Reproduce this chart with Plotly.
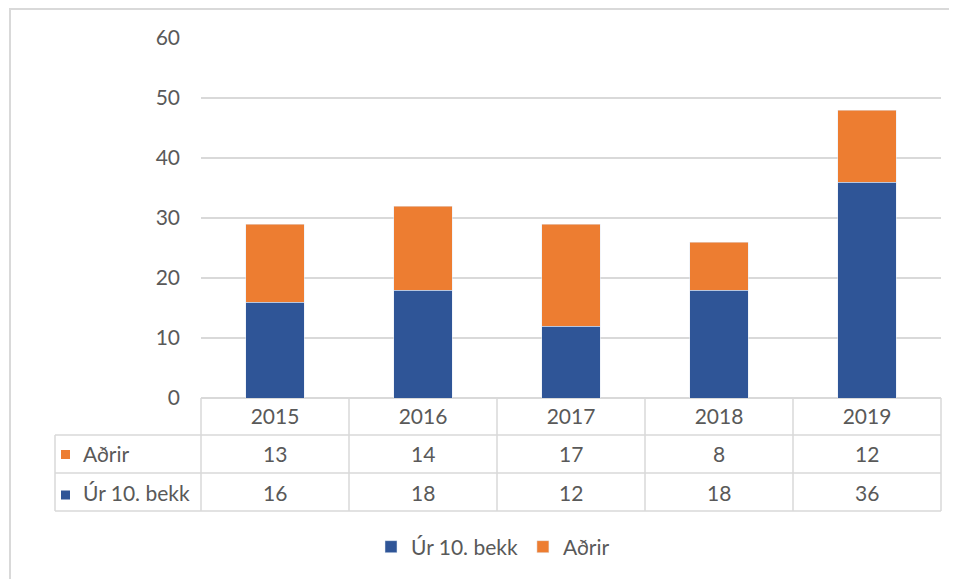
import plotly.graph_objects as go

years = ["2015", "2016", "2017", "2018", "2019"]
ur10 = [16, 18, 12, 18, 36]
adrir = [13, 14, 17, 8, 12]
name_ur = "Úr 10. bekk"
name_adrir = "Aðrir"
y_ticks = [0, 10, 20, 30, 40, 50, 60]

BLUE = "#2F5597"
ORANGE = "#ED7D31"
GRID = "#D9D9D9"
TXT = "#595959"
FONT = "Lato"
FS = 21

OFF = 8  # default body margin of the html page
W, H = 957 - OFF, 579 - OFF
# plot area in page pixels: x 201..941, y 38..398
L, T = 201 - OFF, 38 - OFF
R = W - (941 - OFF)
B = H - (398 - OFF)
PW, PH = W - L - R, H - T - B


def px(x):
    return (x - OFF - L) / PW


def py(y):
    return (H - B - (y - OFF)) / PH


n = len(years)
fig = go.Figure()
fig.add_trace(go.Bar(x=years, y=ur10, name=name_ur, marker_color=BLUE))
fig.add_trace(go.Bar(x=years, y=adrir, name=name_adrir, marker_color=ORANGE))

shapes = []
line = dict(color=GRID, width=1.5)
for yy in [435, 473, 511]:
    shapes.append(dict(type="line", xref="paper", yref="paper", x0=px(55), x1=1, y0=py(yy), y1=py(yy), line=line))
for i in range(n + 1):
    xx = i / n
    shapes.append(dict(type="line", xref="paper", yref="paper", x0=xx, x1=xx, y0=0, y1=py(511), line=line))
shapes.append(dict(type="line", xref="paper", yref="paper", x0=px(55), x1=px(55), y0=py(435), y1=py(511), line=line))
# outer chart border (top & left)
shapes.append(dict(type="line", xref="paper", yref="paper", x0=px(9), x1=px(W + 20), y0=py(9), y1=py(9),
                   line=dict(color=GRID, width=2)))
shapes.append(dict(type="line", xref="paper", yref="paper", x0=px(10), x1=px(10), y0=py(9), y1=py(H + 20),
                   line=dict(color=GRID, width=2)))

annotations = []
rows = [(name_adrir, adrir, ORANGE, 454, 454.5), (name_ur, ur10, BLUE, 492, 495)]
for label, vals, col, yc, ysq in rows:
    shapes.append(dict(type="rect", xref="paper", yref="paper", x0=px(61), x1=px(70), y0=py(ysq - 4.5),
                       y1=py(ysq + 4.5), fillcolor=col, line=dict(width=0)))
    annotations.append(dict(xref="paper", yref="paper", x=px(81), y=py(yc), text=label, showarrow=False,
                            xanchor="left", yanchor="middle", font=dict(family=FONT, size=FS, color=TXT)))
    for i, v in enumerate(vals):
        annotations.append(dict(xref="x", yref="paper", x=i, y=py(yc), text=str(v), showarrow=False,
                                xanchor="center", yanchor="middle", font=dict(family=FONT, size=FS, color=TXT)))

fig.update_layout(
    width=W, height=H,
    margin=dict(l=L, r=R, t=T, b=B, pad=0),
    barmode="stack", bargap=0.604,
    plot_bgcolor="white", paper_bgcolor="white",
    font=dict(family=FONT, size=FS, color=TXT),
    shapes=shapes, annotations=annotations,
    showlegend=True,
    legend=dict(orientation="h", x=px(493), xanchor="center", y=py(547), yanchor="middle",
                font=dict(family=FONT, size=FS, color=TXT), traceorder="normal"),
    xaxis=dict(type="category", range=[-0.5, n - 0.5], autorange=False, showgrid=False, showline=False,
               ticks="", tickfont=dict(family=FONT, size=FS, color=TXT), ticklabelstandoff=4),
    yaxis=dict(range=[0, 60], autorange=False, tickvals=y_ticks, showgrid=True, gridcolor=GRID, gridwidth=1.5,
               zeroline=True, zerolinecolor=GRID, zerolinewidth=1.5, showline=False, ticks="",
               ticklabelstandoff=20, tickfont=dict(family=FONT, size=FS, color=TXT)),
)

fig.write_html("out.html")
